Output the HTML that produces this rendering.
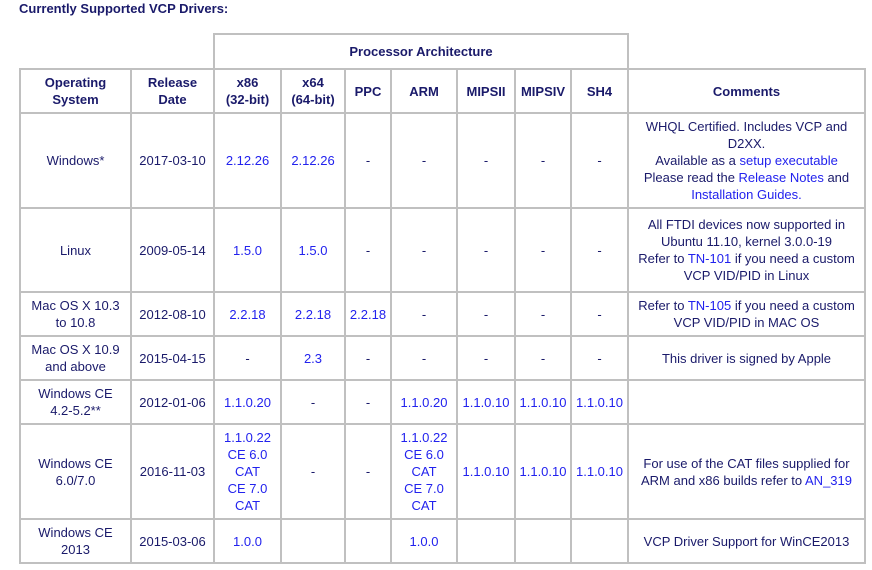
<!DOCTYPE html>
<html><head><meta charset="utf-8"><style>
body{margin:0;width:872px;height:570px;background:#fff;position:relative;overflow:hidden;font-family:"Liberation Sans",Arial,sans-serif;font-size:13px;color:#1a1a6a;}
.c{position:absolute;display:flex;align-items:center;justify-content:center;text-align:center;line-height:17px;}
.c>div{width:100%;}
.h{font-weight:bold;}
a{color:#2222ee;text-decoration:none;}
.l{position:absolute;background:#c0c0c0;}
</style></head><body>
<div style="position:absolute;left:19px;top:1px;font-weight:bold;font-size:13px;">Currently Supported VCP Drivers:</div>

<div class="l" style="left:213px;top:33px;width:416px;height:2px"></div>
<div class="l" style="left:19px;top:68px;width:847px;height:2px"></div>
<div class="l" style="left:19px;top:112px;width:847px;height:2px"></div>
<div class="l" style="left:19px;top:207px;width:847px;height:2px"></div>
<div class="l" style="left:19px;top:291px;width:847px;height:2px"></div>
<div class="l" style="left:19px;top:335px;width:847px;height:2px"></div>
<div class="l" style="left:19px;top:379px;width:847px;height:2px"></div>
<div class="l" style="left:19px;top:423px;width:847px;height:2px"></div>
<div class="l" style="left:19px;top:518px;width:847px;height:2px"></div>
<div class="l" style="left:19px;top:562px;width:847px;height:2px"></div>
<div class="l" style="left:19px;top:68px;width:2px;height:496px"></div>
<div class="l" style="left:130px;top:68px;width:2px;height:496px"></div>
<div class="l" style="left:213px;top:33px;width:2px;height:531px"></div>
<div class="l" style="left:280px;top:68px;width:2px;height:496px"></div>
<div class="l" style="left:344px;top:68px;width:2px;height:496px"></div>
<div class="l" style="left:390px;top:68px;width:2px;height:496px"></div>
<div class="l" style="left:456px;top:68px;width:2px;height:496px"></div>
<div class="l" style="left:514px;top:68px;width:2px;height:496px"></div>
<div class="l" style="left:570px;top:68px;width:2px;height:496px"></div>
<div class="l" style="left:627px;top:33px;width:2px;height:531px"></div>
<div class="l" style="left:864px;top:68px;width:2px;height:496px"></div>

<div class="c h" style="left:215px;top:35px;width:412px;height:33px"><div>Processor Architecture</div></div>

<div class="c h" style="left:21px;top:70px;width:109px;height:42px"><div>Operating<br>System</div></div>
<div class="c h" style="left:132px;top:70px;width:81px;height:42px"><div>Release<br>Date</div></div>
<div class="c h" style="left:215px;top:70px;width:65px;height:42px"><div>x86<br>(32-bit)</div></div>
<div class="c h" style="left:282px;top:70px;width:62px;height:42px"><div>x64<br>(64-bit)</div></div>
<div class="c h" style="left:346px;top:70px;width:44px;height:42px"><div>PPC</div></div>
<div class="c h" style="left:392px;top:70px;width:64px;height:42px"><div>ARM</div></div>
<div class="c h" style="left:458px;top:70px;width:56px;height:42px"><div>MIPSII</div></div>
<div class="c h" style="left:516px;top:70px;width:54px;height:42px"><div>MIPSIV</div></div>
<div class="c h" style="left:572px;top:70px;width:55px;height:42px"><div>SH4</div></div>
<div class="c h" style="left:629px;top:70px;width:235px;height:42px"><div>Comments</div></div>

<div class="c" style="left:21px;top:114px;width:109px;height:93px"><div>Windows*</div></div>
<div class="c" style="left:132px;top:114px;width:81px;height:93px"><div>2017-03-10</div></div>
<div class="c" style="left:215px;top:114px;width:65px;height:93px"><div><a>2.12.26</a></div></div>
<div class="c" style="left:282px;top:114px;width:62px;height:93px"><div><a>2.12.26</a></div></div>
<div class="c" style="left:346px;top:114px;width:44px;height:93px"><div>-</div></div>
<div class="c" style="left:392px;top:114px;width:64px;height:93px"><div>-</div></div>
<div class="c" style="left:458px;top:114px;width:56px;height:93px"><div>-</div></div>
<div class="c" style="left:516px;top:114px;width:54px;height:93px"><div>-</div></div>
<div class="c" style="left:572px;top:114px;width:55px;height:93px"><div>-</div></div>
<div class="c" style="left:629px;top:114px;width:235px;height:93px"><div>WHQL Certified. Includes VCP and<br>D2XX.<br>Available as a <a>setup executable</a><br>Please read the <a>Release Notes</a> and<br><a>Installation Guides.</a></div></div>

<div class="c" style="left:21px;top:209px;width:109px;height:82px"><div>Linux</div></div>
<div class="c" style="left:132px;top:209px;width:81px;height:82px"><div>2009-05-14</div></div>
<div class="c" style="left:215px;top:209px;width:65px;height:82px"><div><a>1.5.0</a></div></div>
<div class="c" style="left:282px;top:209px;width:62px;height:82px"><div><a>1.5.0</a></div></div>
<div class="c" style="left:346px;top:209px;width:44px;height:82px"><div>-</div></div>
<div class="c" style="left:392px;top:209px;width:64px;height:82px"><div>-</div></div>
<div class="c" style="left:458px;top:209px;width:56px;height:82px"><div>-</div></div>
<div class="c" style="left:516px;top:209px;width:54px;height:82px"><div>-</div></div>
<div class="c" style="left:572px;top:209px;width:55px;height:82px"><div>-</div></div>
<div class="c" style="left:629px;top:209px;width:235px;height:82px"><div>All FTDI devices now supported in<br>Ubuntu 11.10, kernel 3.0.0-19<br>Refer to <a>TN-101</a> if you need a custom<br>VCP VID/PID in Linux</div></div>

<div class="c" style="left:21px;top:293px;width:109px;height:42px"><div>Mac OS X 10.3<br>to 10.8</div></div>
<div class="c" style="left:132px;top:293px;width:81px;height:42px"><div>2012-08-10</div></div>
<div class="c" style="left:215px;top:293px;width:65px;height:42px"><div><a>2.2.18</a></div></div>
<div class="c" style="left:282px;top:293px;width:62px;height:42px"><div><a>2.2.18</a></div></div>
<div class="c" style="left:346px;top:293px;width:44px;height:42px"><div><a>2.2.18</a></div></div>
<div class="c" style="left:392px;top:293px;width:64px;height:42px"><div>-</div></div>
<div class="c" style="left:458px;top:293px;width:56px;height:42px"><div>-</div></div>
<div class="c" style="left:516px;top:293px;width:54px;height:42px"><div>-</div></div>
<div class="c" style="left:572px;top:293px;width:55px;height:42px"><div>-</div></div>
<div class="c" style="left:629px;top:293px;width:235px;height:42px"><div>Refer to <a>TN-105</a> if you need a custom<br>VCP VID/PID in MAC OS</div></div>

<div class="c" style="left:21px;top:337px;width:109px;height:42px"><div>Mac OS X 10.9<br>and above</div></div>
<div class="c" style="left:132px;top:337px;width:81px;height:42px"><div>2015-04-15</div></div>
<div class="c" style="left:215px;top:337px;width:65px;height:42px"><div>-</div></div>
<div class="c" style="left:282px;top:337px;width:62px;height:42px"><div><a>2.3</a></div></div>
<div class="c" style="left:346px;top:337px;width:44px;height:42px"><div>-</div></div>
<div class="c" style="left:392px;top:337px;width:64px;height:42px"><div>-</div></div>
<div class="c" style="left:458px;top:337px;width:56px;height:42px"><div>-</div></div>
<div class="c" style="left:516px;top:337px;width:54px;height:42px"><div>-</div></div>
<div class="c" style="left:572px;top:337px;width:55px;height:42px"><div>-</div></div>
<div class="c" style="left:629px;top:337px;width:235px;height:42px"><div>This driver is signed by Apple</div></div>

<div class="c" style="left:21px;top:381px;width:109px;height:42px"><div>Windows CE<br>4.2-5.2**</div></div>
<div class="c" style="left:132px;top:381px;width:81px;height:42px"><div>2012-01-06</div></div>
<div class="c" style="left:215px;top:381px;width:65px;height:42px"><div><a>1.1.0.20</a></div></div>
<div class="c" style="left:282px;top:381px;width:62px;height:42px"><div>-</div></div>
<div class="c" style="left:346px;top:381px;width:44px;height:42px"><div>-</div></div>
<div class="c" style="left:392px;top:381px;width:64px;height:42px"><div><a>1.1.0.20</a></div></div>
<div class="c" style="left:458px;top:381px;width:56px;height:42px"><div><a>1.1.0.10</a></div></div>
<div class="c" style="left:516px;top:381px;width:54px;height:42px"><div><a>1.1.0.10</a></div></div>
<div class="c" style="left:572px;top:381px;width:55px;height:42px"><div><a>1.1.0.10</a></div></div>

<div class="c" style="left:21px;top:425px;width:109px;height:93px"><div>Windows CE<br>6.0/7.0</div></div>
<div class="c" style="left:132px;top:425px;width:81px;height:93px"><div>2016-11-03</div></div>
<div class="c" style="left:215px;top:425px;width:65px;height:93px"><div><a>1.1.0.22<br>CE 6.0<br>CAT<br>CE 7.0<br>CAT</a></div></div>
<div class="c" style="left:282px;top:425px;width:62px;height:93px"><div>-</div></div>
<div class="c" style="left:346px;top:425px;width:44px;height:93px"><div>-</div></div>
<div class="c" style="left:392px;top:425px;width:64px;height:93px"><div><a>1.1.0.22<br>CE 6.0<br>CAT<br>CE 7.0<br>CAT</a></div></div>
<div class="c" style="left:458px;top:425px;width:56px;height:93px"><div><a>1.1.0.10</a></div></div>
<div class="c" style="left:516px;top:425px;width:54px;height:93px"><div><a>1.1.0.10</a></div></div>
<div class="c" style="left:572px;top:425px;width:55px;height:93px"><div><a>1.1.0.10</a></div></div>
<div class="c" style="left:629px;top:425px;width:235px;height:93px"><div>For use of the CAT files supplied for<br>ARM and x86 builds refer to <a>AN_319</a></div></div>

<div class="c" style="left:21px;top:520px;width:109px;height:42px"><div>Windows CE<br>2013</div></div>
<div class="c" style="left:132px;top:520px;width:81px;height:42px"><div>2015-03-06</div></div>
<div class="c" style="left:215px;top:520px;width:65px;height:42px"><div><a>1.0.0</a></div></div>
<div class="c" style="left:392px;top:520px;width:64px;height:42px"><div><a>1.0.0</a></div></div>
<div class="c" style="left:629px;top:520px;width:235px;height:42px"><div>VCP Driver Support for WinCE2013</div></div>
</body></html>
